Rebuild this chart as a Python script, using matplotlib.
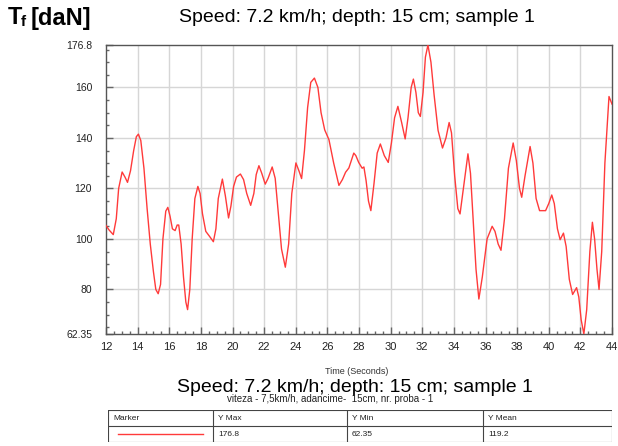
import numpy as np
import matplotlib
matplotlib.use("Agg")
import matplotlib.pyplot as plt
from matplotlib.ticker import MultipleLocator, FixedLocator

plt.rcParams['font.family'] = ['Liberation Sans', 'DejaVu Sans']

# traction force vs time
time_s = [
    12.00, 12.20, 12.46, 12.65, 12.80, 13.02, 13.20, 13.36, 13.55, 13.75,
    13.92, 14.05, 14.20, 14.40, 14.60, 14.80, 15.00, 15.15, 15.30, 15.45,
    15.60, 15.78, 15.91, 16.05, 16.20, 16.37, 16.50, 16.60, 16.75, 16.90,
    17.05, 17.16, 17.30, 17.45, 17.62, 17.81, 17.95, 18.10, 18.31, 18.55,
    18.79, 18.95, 19.10, 19.36, 19.55, 19.75, 19.90, 20.07, 20.25, 20.50,
    20.70, 20.90, 21.15, 21.35, 21.50, 21.67, 21.85, 22.07, 22.25, 22.51,
    22.70, 22.90, 23.10, 23.34, 23.55, 23.75, 24.01, 24.20, 24.37, 24.55,
    24.75, 24.95, 25.18, 25.40, 25.60, 25.83, 26.10, 26.40, 26.73, 26.95,
    27.15, 27.36, 27.67, 27.80, 27.98, 28.20, 28.31, 28.45, 28.60, 28.75,
    28.95, 29.15, 29.35, 29.60, 29.85, 30.05, 30.25, 30.46, 30.70, 30.92,
    31.10, 31.30, 31.44, 31.60, 31.75, 31.88, 32.05, 32.20, 32.36, 32.55,
    32.75, 33.00, 33.28, 33.50, 33.70, 33.85, 34.05, 34.25, 34.39, 34.60,
    34.89, 35.05, 35.20, 35.40, 35.58, 35.80, 36.10, 36.42, 36.60, 36.80,
    36.98, 37.20, 37.45, 37.75, 37.95, 38.15, 38.29, 38.50, 38.82, 39.00,
    39.20, 39.42, 39.80, 40.00, 40.19, 40.35, 40.55, 40.72, 40.93, 41.10,
    41.30, 41.51, 41.76, 41.90, 42.05, 42.22, 42.40, 42.60, 42.76, 42.90,
    43.05, 43.18, 43.35, 43.55, 43.81, 44.00,
]
force_dan = [
    105.3, 103.5, 101.7, 108.0, 120.0, 126.5, 124.5, 122.4, 127.0, 135.0,
    140.5, 141.5, 139.0, 128.0, 112.0, 98.0, 87.0, 80.0, 78.3, 82.0,
    100.0, 111.0, 112.5, 109.0, 104.0, 103.3, 105.5, 105.5, 98.0, 85.0,
    75.0, 72.0, 80.0, 100.0, 116.0, 120.8, 118.0, 110.0, 103.0, 101.0,
    98.9, 104.0, 116.0, 123.7, 117.0, 108.3, 113.0, 120.8, 124.5, 125.7,
    123.5, 118.0, 113.3, 118.0, 125.5, 129.0, 126.0, 121.7, 124.0, 128.5,
    124.0, 110.0, 96.0, 88.8, 98.0, 118.0, 130.1, 127.0, 123.9, 135.0,
    152.0, 162.0, 163.7, 160.0, 150.0, 143.2, 139.3, 130.0, 121.2, 123.5,
    126.4, 128.1, 134.0, 133.0, 130.3, 128.0, 128.5, 123.0, 115.0, 111.2,
    122.0, 134.0, 137.6, 133.0, 130.3, 138.0, 148.0, 152.5, 146.0, 139.6,
    148.0, 160.0, 163.3, 158.0, 150.0, 148.5, 158.0, 172.0, 176.8, 170.0,
    157.0, 143.0, 136.0, 140.0, 146.1, 142.0, 125.0, 112.0, 109.9, 120.0,
    133.7, 126.0, 110.0, 88.0, 76.2, 85.0, 100.0, 105.0, 103.0, 98.0,
    95.5, 108.0, 128.0, 138.0, 131.0, 120.0, 116.5, 125.0, 136.6, 130.0,
    116.0, 111.2, 111.2, 114.0, 117.4, 114.0, 104.0, 99.7, 102.3, 97.0,
    84.0, 78.0, 80.7, 77.0, 68.0, 62.35, 72.0, 95.0, 106.6, 100.0,
    88.0, 80.0, 95.0, 130.0, 156.4, 153.4,
]

y_max, y_min, y_mean = 176.8, 62.35, 119.2
y_ticks = [62.35, 80, 100, 120, 140, 160, 176.8]
y_tick_labels = ["62.35", "80", "100", "120", "140", "160", "176.8"]
x_ticks = list(range(12, 45, 2))

title = "Speed: 7.2 km/h; depth: 15 cm; sample 1"
subtitle = "viteza - 7,5km/h, adancime-  15cm, nr. proba - 1"
table_cols = ["Marker", "Y Max", "Y Min", "Y Mean"]
table_vals = ["", f"{y_max}", f"{y_min}", f"{y_mean}"]

fig = plt.figure(figsize=(6.18, 4.46), dpi=100)
ax = fig.add_axes([106 / 618, 112 / 446, 506 / 618, 289 / 446])

ax.plot(time_s, force_dan, color="#ff3a3a", lw=1.0, zorder=3)

ax.set_xlim(12, 44)
ax.set_ylim(y_min, y_max)
ax.set_xticks(x_ticks)
ax.xaxis.set_minor_locator(MultipleLocator(0.5))
ax.yaxis.set_major_locator(FixedLocator(y_ticks))
ax.set_yticklabels(y_tick_labels)
ax.yaxis.set_minor_locator(FixedLocator(np.arange(65, 176, 5)))

# grid only at round values
for xv in x_ticks[1:-1]:
    ax.axvline(xv, color="#d6d6d6", lw=1.0, zorder=1)
for yv in [80, 100, 120, 140, 160]:
    ax.axhline(yv, color="#d6d6d6", lw=1.0, zorder=1)

for s in ax.spines.values():
    s.set_color("#555555")
    s.set_linewidth(1.0)
ax.tick_params(which="major", direction="in", length=5, width=1.0, color="#666666",
               labelsize=8, labelcolor="#222222")
ax.tick_params(axis="y", which="major", labelsize=7.5, pad=10)
ax.tick_params(axis="x", which="major", pad=6)
ax.tick_params(which="minor", direction="in", length=2.5, width=1.0, color="#666666")

# headers
fig.text(8 / 618, 1 - 18 / 446, "T", fontsize=17, fontweight="bold", va="center", ha="left")
fig.text(21 / 618, 1 - 22 / 446, "f", fontsize=11, fontweight="bold", va="center", ha="left")
fig.text(31 / 618, 1 - 18 / 446, "[daN]", fontsize=17, fontweight="bold", va="center", ha="left")
fig.text(357 / 618, 1 - 17 / 446, title, fontsize=14, va="center", ha="center")

# axis label and lower title
fig.text(357 / 618, 1 - 372 / 446, "Time (Seconds)", fontsize=6.5, va="center", ha="center",
         color="#333333")
fig.text(355 / 618, 1 - 387 / 446, title, fontsize=14, va="center", ha="center")
fig.text(330 / 618, 1 - 399 / 446, subtitle, fontsize=7, va="center", ha="center",
         color="#222222")

# summary table
tab = fig.add_axes([108 / 618, 4 / 446, 504 / 618, 32 / 446])
tab.set_xlim(108, 612)
tab.set_ylim(0, 32)
tab.axis("off")
col_edges = [108, 213, 347, 483, 612]
for xe in col_edges:
    tab.plot([xe, xe], [0, 32], color="#444444", lw=0.8)
for ye in [0, 16, 32]:
    tab.plot([108, 612], [ye, ye], color="#444444", lw=0.8)
for i, (head, val) in enumerate(zip(table_cols, table_vals)):
    tab.text(col_edges[i] + 5, 24, head, fontsize=6, va="center", ha="left", color="#222222")
    if val:
        tab.text(col_edges[i] + 5, 8, val, fontsize=6, va="center", ha="left", color="#222222")
tab.plot([118, 203], [8, 8], color="#ff3a3a", lw=1.0)

fig.savefig("out.png", dpi=100)
